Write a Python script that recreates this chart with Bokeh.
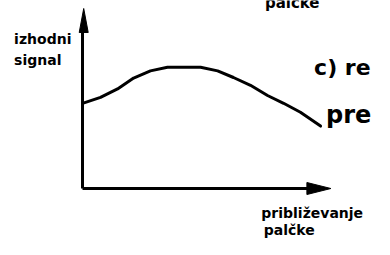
from bokeh.plotting import figure
from bokeh.models import Range1d
from bokeh.core.properties import value
from bokeh.embed import file_html
from bokeh.resources import INLINE

# Sketch data (arbitrary units): approach of the finger vs. output signal
approach = [0.0, 0.75, 1.46, 2.13, 2.83, 3.54, 4.92, 5.63, 6.29, 7.0, 7.71, 8.38, 9.08, 9.92]
signal = [7.1, 7.6, 8.3, 9.2, 9.8, 10.1, 10.1, 9.8, 9.25, 8.6, 7.75, 7.1, 6.35, 5.2]

x_axis_end = 10.35
y_axis_end = 15.0

labels_text = ["izhodni", "signal", "približevanje", "palčke", "c) re", "pre", "palčke"]
labels_x = [-2.85, -2.85, 7.45, 7.55, 9.65, 10.15, 7.6]
labels_y = [12.45, 10.7, -2.05, -3.45, 10.05, 6.1, 15.45]
labels_size = ["14px", "14px", "14px", "14px", "22px", "24px", "15px"]

FONT = value("DejaVu Sans")

p = figure(width=374, height=239, output_backend="svg", toolbar_location=None,
           x_range=Range1d(-3.417, 12.167), y_range=Range1d(-4.25, 15.667),
           min_border=0, min_border_left=0, min_border_right=0,
           min_border_top=0, min_border_bottom=0)
p.xaxis.visible = False
p.yaxis.visible = False
p.xgrid.visible = False
p.ygrid.visible = False
p.outline_line_color = None
p.background_fill_color = "white"
p.border_fill_color = "white"

# axes as hand-drawn arrows
p.line([0, x_axis_end - 0.6], [0, 0], line_width=3, line_color="black")
p.line([0, 0], [0, y_axis_end - 1.5], line_width=3, line_color="black")
# arrow heads (px -> data: 24 px/unit in x, 12 px/unit in y)
hx, hw = 24 / 24, 6 / 12
p.patch([x_axis_end, x_axis_end - hx, x_axis_end - hx], [0, hw, -hw],
        color="black")
vw, vl = 4.5 / 24, 24 / 12
p.patch([0.05, 0.05 - vw, 0.05 + vw], [y_axis_end, y_axis_end - vl, y_axis_end - vl],
        color="black")

# curve
p.line(approach, signal, line_width=3, line_color="black",
       line_join="round", line_cap="round")

for t, x, y, s in zip(labels_text, labels_x, labels_y, labels_size):
    p.text(x=[x], y=[y], text=[t], text_font=FONT, text_font_size=s,
           text_font_style="bold", text_baseline="alphabetic",
           text_align="left", text_color="black")

open("out.html", "w").write(file_html(p, INLINE))
